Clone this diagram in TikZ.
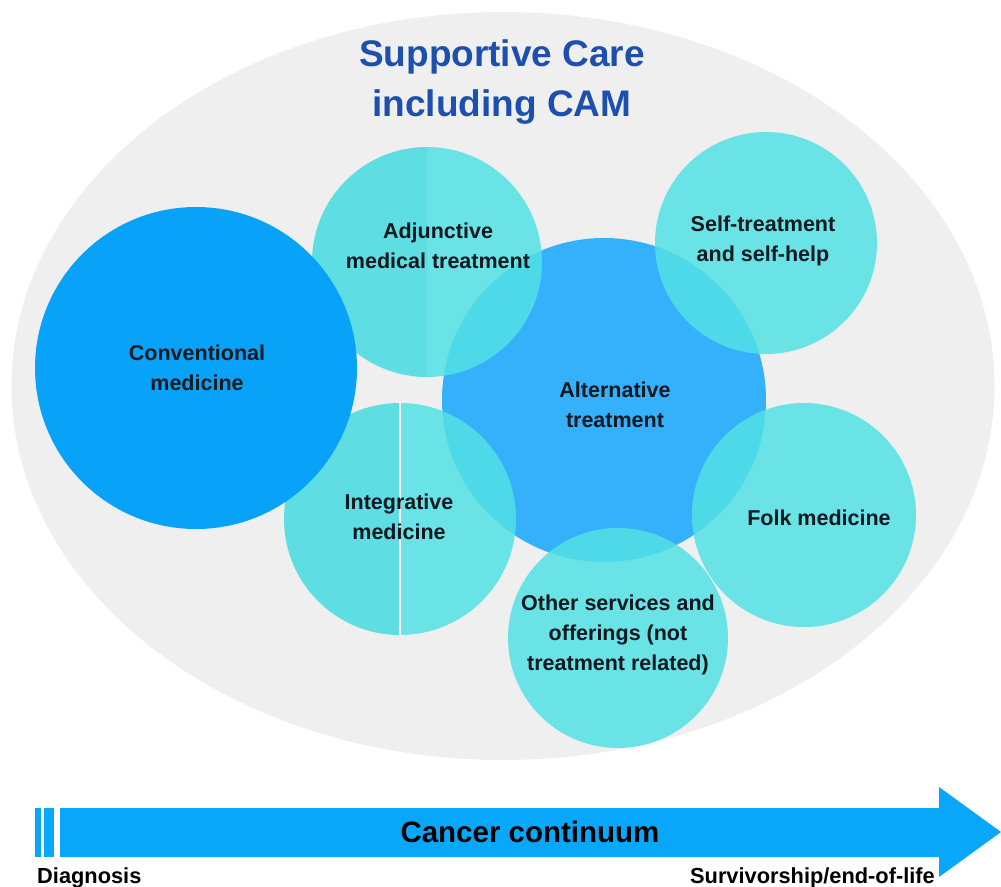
\documentclass[tikz,border=0pt]{standalone}
\usepackage{fontspec}
\setmainfont{Liberation Sans}
\usepackage{tikz}
\usetikzlibrary{shapes.geometric}

\definecolor{caregray}{HTML}{EFEFEF}
\definecolor{careblue}{HTML}{1C4FAE}
\definecolor{convblue}{HTML}{08A3F9}
\definecolor{altblue}{HTML}{35B1FB}
\definecolor{camcyan}{HTML}{52E1E4}
\definecolor{halfcyan}{HTML}{00B0D0}
\definecolor{arrowblue}{HTML}{09A7FA}
\definecolor{labelink}{HTML}{101820}

\begin{document}
\begin{tikzpicture}[x=1pt,y=-1pt,
        bubble/.style={circle,draw=none,inner sep=0pt,fill=camcyan,fill opacity=.85},
        bigbubble/.style={circle,draw=none,inner sep=0pt},
        lbl/.style={font=\fontsize{21.5}{30}\selectfont\bfseries,text=labelink,align=center}]
        % frame of the picture
        \useasboundingbox (0,0) rectangle (1001,886);
        \node[ellipse,fill=caregray,inner sep=0pt,minimum width=983pt,minimum height=748pt](care) at (503,386){};
        \node[font=\fontsize{37}{50}\selectfont\bfseries,text=careblue,align=center](title) at (502,82){Supportive Care\\including CAM};

        \node[bigbubble,fill=altblue,minimum size=324pt](alt) at (604,400){};
        \node[bubble,minimum size=230pt](adj) at (427,262){};
        \node[bubble,minimum size=222pt](self) at (766,243){};
        \node[bubble,minimum size=232pt](integ) at (400,519){};
        \node[bubble,minimum size=224pt](folk) at (804,515){};
        \node[bubble,minimum size=220pt](other) at (618,638){};

        % left halves a bit darker
        \begin{scope}
            \clip ([xshift=-130pt]adj.north) rectangle (adj.south);
            \fill[halfcyan,opacity=.1] (adj) circle[radius=115];
        \end{scope}
        \begin{scope}
            \clip ([xshift=-130pt]integ.north) rectangle (integ.south);
            \fill[halfcyan,opacity=.1] (integ) circle[radius=116];
        \end{scope}
        \draw[white,line width=1.2pt] (integ.north) -- (integ.south);

        \node[bigbubble,fill=convblue,minimum size=322pt](conv) at (196,368){};

        \node[lbl](conv_t) at (197,368){Conventional\\medicine};
        \node[lbl](adj_t) at (438,246){Adjunctive\\medical treatment};
        \node[lbl](alt_t) at (615,405){Alternative\\treatment};
        \node[lbl](self_t) at (763,241){Self-treatment\\and self-help};
        \node[lbl](integ_t) at (399,517){Integrative\\medicine};
        \node[lbl](folk_t) at (819,518){Folk medicine};
        \node[lbl](other_t) at (618,635){Other services and\\offerings (not\\treatment related)};

        % cancer continuum
        \fill[arrowblue] (35,808) rectangle (41,857);
        \fill[arrowblue] (44,808) rectangle (54,857);
        \fill[arrowblue] (60,808) -- (939,808) -- (939,787) -- (1001,832) -- (939,877) -- (939,857) -- (60,857) -- cycle;
        \node[font=\fontsize{29.5}{34}\selectfont\bfseries,text=black](cont) at (530,832){Cancer continuum};
        \node[font=\fontsize{21.8}{25}\selectfont\bfseries,text=black,anchor=base west,inner sep=0pt](diag) at (37,883){Diagnosis};
        \node[font=\fontsize{21.8}{25}\selectfont\bfseries,text=black,anchor=base east,inner sep=0pt](surv) at (935,883){Survivorship/end-of-life};
\end{tikzpicture}
\end{document}
